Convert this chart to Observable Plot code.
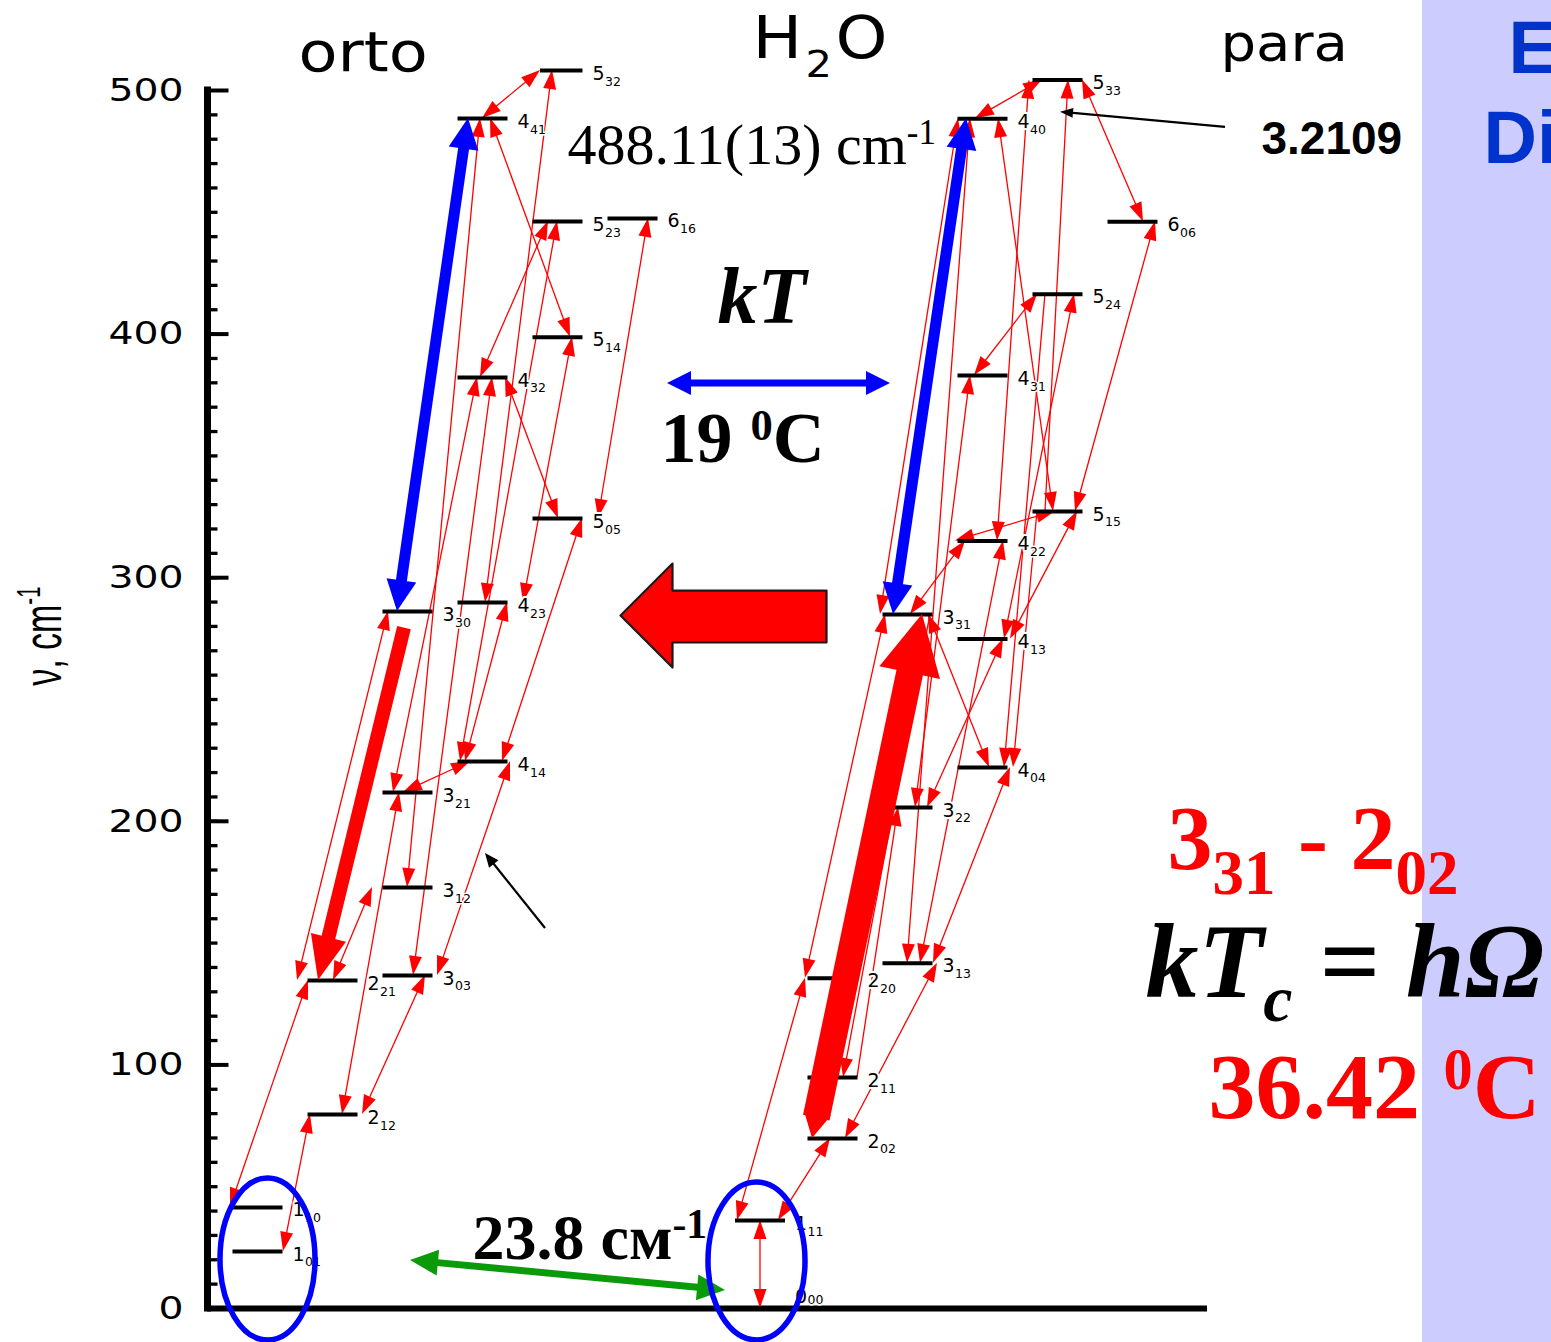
<!DOCTYPE html>
<html>
<head>
<meta charset="utf-8">
<script src="https://cdn.jsdelivr.net/npm/d3@7"></script>
<script src="https://cdn.jsdelivr.net/npm/@observablehq/plot@0.6"></script>
<style>
html, body { margin: 0; padding: 0; background: #fff; overflow: hidden; }
#chart { width: 1551px; height: 1342px; }
</style>
</head>
<body>
<div id="chart"></div>
<script>
// ---------------- data: rotational levels of H2O (cm^-1) ----------------
const levelNames  = ["1_01","1_10","2_12","2_21","3_03","3_12","3_21","3_30","4_14","4_23","4_32","4_41","5_05","5_14","5_23","5_32","6_16",
                     "0_00","1_11","2_02","2_11","2_20","3_13","3_22","3_31","4_04","4_13","4_22","4_31","4_40","5_15","5_24","5_33","6_06"];
const levelSpecies = ["orto","orto","orto","orto","orto","orto","orto","orto","orto","orto","orto","orto","orto","orto","orto","orto","orto",
                      "para","para","para","para","para","para","para","para","para","para","para","para","para","para","para","para","para"];
const levelEnergy = [23.4, 41.5, 79.6, 134.6, 136.7, 172.8, 211.8, 286.1, 224.5, 289.8, 382.2, 488.5, 324.3, 398.7, 446.2, 508.2, 447.5,
                     0, 36.1, 69.8, 94.8, 135.6, 141.7, 205.7, 284.9, 222.1, 274.8, 315.1, 383.0, 488.4, 327.2, 416.4, 504.3, 446.1];
// diagram column (one column per J, orto then para)
const levelColumn = [1, 1, 4, 4, 7, 7, 7, 7, 10, 10, 10, 10, 13, 13, 13, 13.3, 16,
                     21.1, 21.1, 24, 24, 24, 27, 27, 27, 30, 30, 30, 30, 30, 33, 33, 33, 36];
const levelSpan   = [2, 2, 2, 2, 2, 2, 2, 2, 2, 2, 2, 2, 2, 2, 2, 1.7, 2,
                     2, 2, 2, 2, 2, 2, 2, 2, 2, 2, 2, 2, 2, 2, 2, 2, 2];

// ---------------- data: transitions (from level, position, to level, position, heads) ----------------
const transFrom  = ["1_01","1_10","2_21","2_21","2_12","2_12","3_21","3_03","4_14","3_12","3_21","3_03","4_14","4_23","4_23","4_32","4_32","4_41","4_41","5_05","4_14",
                    "0_00","1_11","1_11","2_02","2_11","2_11","2_20","3_31","3_13","3_13","3_13","3_22","3_22","3_31","3_31","4_22","4_40","5_33","4_31","4_13","5_24","5_15","4_13","4_40","5_15","5_33","5_15"];
const transFromX = [3.04, 0.92, 3.6, 5.04, 5.4, 6.2, 7.84, 9.2, 11.8, 8.0, 7.44, 8.24, 10.32, 11.12, 12.64, 10.92, 11.92, 11.32, 11.0, 15.64, 10.12,
                    22.12, 22.84, 21.2, 25.52, 25.44, 26.0, 23.92, 26.92, 28.0, 28.52, 29.04, 28.8, 28.32, 28.12, 28.84, 29.92, 31.64, 32.88, 30.68, 31.88, 33.52, 33.2, 32.12, 30.72, 33.52, 35.0, 34.72];
const transTo    = ["2_12","2_21","3_30","3_12","3_21","3_03","4_14","4_14","5_05","4_41","4_32","4_32","4_23","5_32","5_14","5_23","5_05","5_14","5_32","6_16","5_23",
                    "1_11","2_02","2_20","3_13","3_31","3_22","3_31","4_40","4_40","4_22","4_04","4_13","4_31","4_22","4_04","5_15","5_15","4_22","5_24","5_24","4_04","4_04","5_15","5_33","5_33","6_06","6_06"];
const transToX   = [4.12, 4.04, 7.24, 6.6, 7.68, 8.72, 10.52, 12.12, 15.0, 10.92, 10.8, 11.4, 12.0, 13.8, 14.6, 13.64, 14.04, 14.52, 13.32, 17.64, 14.0,
                    22.12, 24.92, 23.92, 29.2, 28.92, 27.64, 27.12, 30.04, 30.52, 31.84, 32.12, 31.84, 30.52, 30.32, 31.28, 33.92, 33.84, 31.6, 33.2, 34.68, 31.88, 32.24, 34.8, 33.4, 34.44, 37.44, 37.92];
const transHeads = ["both","both","both","both","both","both","both","both","both","both","both","both","both","both","both","both","both","both","both","both","both",
                    "both","both","both","both","start","end","both","both","both","both","both","both","both","both","both","both","both","both","both","both","end","end","both","both","end","both","both"];

// strong transitions
const strongFrom  = ["3_30","3_31","3_30","2_02"];
const strongFromX = [7.6, 27.44, 8.04, 24.2];
const strongTo    = ["4_41","4_40","2_21","3_31"];
const strongToX   = [10.44, 30.36, 4.44, 28.6];

// y axis ticks
const yTicks = [0, 100, 200, 300, 400, 500];
const yMinorTicks = d3.range(10, 500, 10);

// annotations (text, column, energy)
const annText  = ["orto", "H_{2}O", "para", "488.11(13) cm^{-1}", "kT", "19 ^{0}C", "3.2109", "23.8 см^{-1}",
                  "3_{31} - 2_{02}", "kT_{c} = hΩ", "36.42 ^{0}C", "E", "Di", "ν, cm^{-1}"];
const annCol   = [3.64, 21.8, 40.52, 14.4, 20.4, 18.12, 42.16, 10.6, 38.4, 37.52, 40.04, 52.04, 51.04, -5.88];
const annValue = [508.2, 513.5, 512.3, 470.0, 404.4, 347.3, 474.1, 20.5, 180.6, 127.7, 78.4, 507.0, 470.4, 276];

// pointer arrows
const pointerFromCol = [40.72, 13.52], pointerFromValue = [484.9, 156.0];
const pointerToCol   = [34.12, 11.12], pointerToValue   = [491.1, 186.8];
const greenCol = [8.12, 20.72], greenValue = [19.7, 7.4];
const kTCol = [18.4, 27.32], kTValue = [379.7, 379.7];
const blockArrowCol   = [16.52, 18.6, 18.6, 24.76, 24.76, 18.6, 18.6];
const blockArrowValue = [284.5, 305.8, 294.7, 294.7, 273.4, 273.4, 263.1];
const ellipseCol = [2.42, 21.98], ellipseValue = [20.1, 19.3], ellipseRCol = [1.9, 1.94], ellipseRValue = [33.25, 32.4];
const panelCol = [48.6, 56], panelValue = [-20, 560];

// ---------------- build ----------------
const levels = levelNames.map((name, i) => ({
  name, species: levelSpecies[i], energy: levelEnergy[i], col: levelColumn[i], span: levelSpan[i],
  J: name.split("_")[0], K: name.split("_")[1]
}));
const raisedLevels = levels.filter(d => d.energy > 0);
const groundLevels = levels.filter(d => d.energy === 0);
const E = Object.fromEntries(levels.map(d => [d.name, d.energy]));

const thin = transFrom.map((f, i) => ({
  x1: transFromX[i], y1: E[f], x2: transToX[i], y2: E[transTo[i]],
  head1: transHeads[i] !== "end", head2: transHeads[i] !== "start",
  color: "#FF0000", width: 1.3, len1: 19, half1: 6.5, len2: 19, half2: 6.5
}));

const strongStyle = [
  {color: "#0000FF", width: 11, head1: true, head2: true, len1: 31, half1: 15, len2: 31, half2: 15},
  {color: "#0000FF", width: 11, head1: true, head2: true, len1: 31, half1: 15, len2: 31, half2: 15},
  {color: "#FF0000", width: 14, head1: false, head2: true, gap1: 17, len2: 44, half2: 18},
  {color: "#FF0000", width: 27, head1: true, head2: true, len1: 26, half1: 14, len2: 60, half2: 31}
];
const strong = strongFrom.map((f, i) => ({
  x1: strongFromX[i], y1: E[f], x2: strongToX[i], y2: E[strongTo[i]], ...strongStyle[i]
}));

const pointers = [
  {x1: pointerFromCol[0], y1: pointerFromValue[0], x2: pointerToCol[0], y2: pointerToValue[0], color: "#000", width: 2.2, head2: true, len2: 13, half2: 5},
  {x1: pointerFromCol[1], y1: pointerFromValue[1], x2: pointerToCol[1], y2: pointerToValue[1], color: "#000", width: 2.2, head2: true, len2: 14, half2: 6},
  {x1: greenCol[0], y1: greenValue[0], x2: greenCol[1], y2: greenValue[1], color: "#0A9A0A", width: 7, head1: true, head2: true, len1: 28, half1: 13, len2: 28, half2: 13},
  {x1: kTCol[0], y1: kTValue[0], x2: kTCol[1], y2: kTValue[1], color: "#0000FF", width: 7, head1: true, head2: true, len1: 24, half1: 12, len2: 24, half2: 12}
];

function getScales(args) {
  for (const a of args) if (a && typeof a.x === "function" && typeof a.y === "function") return a;
  for (const a of args) if (a && a.scales && a.scales.x && a.scales.x.apply) return {x: v => a.scales.x.apply(v), y: v => a.scales.y.apply(v)};
  return null;
}
function tri(g, tx, ty, bx, by, len, half, color) {
  const cx = tx + bx * len, cy = ty + by * len, nx = -by, ny = bx;
  g.append("path")
    .attr("d", `M${tx},${ty}L${cx + nx * half},${cy + ny * half}L${cx - nx * half},${cy - ny * half}Z`)
    .attr("fill", color);
}
function drawArrow(g, x1, y1, x2, y2, st) {
  const dx = x2 - x1, dy = y2 - y1, L = Math.hypot(dx, dy) || 1;
  const ux = dx / L, uy = dy / L;
  const a = st.head1 ? st.len1 * 0.8 : (st.gap1 || 0);
  const b = st.head2 ? st.len2 * 0.8 : (st.gap2 || 0);
  g.append("line")
    .attr("x1", x1 + ux * a).attr("y1", y1 + uy * a)
    .attr("x2", x2 - ux * b).attr("y2", y2 - uy * b)
    .attr("stroke", st.color).attr("stroke-width", st.width);
  if (st.head1) tri(g, x1, y1, ux, uy, st.len1, st.half1, st.color);
  if (st.head2) tri(g, x2, y2, -ux, -uy, st.len2, st.half2, st.color);
}
function arrowLayer(items) {
  return function (...args) {
    const s = getScales(args);
    const g = d3.create("svg:g");
    for (const a of items) drawArrow(g, s.x(a.x1), s.y(a.y1), s.x(a.x2), s.y(a.y2), a);
    return g.node();
  };
}
function ellipseLayer() {
  return function (...args) {
    const s = getScales(args);
    const g = d3.create("svg:g");
    ellipseCol.forEach((c, i) => {
      const cx = s.x(c), cy = s.y(ellipseValue[i]);
      g.append("ellipse")
        .attr("cx", cx).attr("cy", cy)
        .attr("rx", Math.abs(s.x(c + ellipseRCol[i]) - cx))
        .attr("ry", Math.abs(s.y(ellipseValue[i] + ellipseRValue[i]) - cy))
        .attr("fill", "none").attr("stroke", "#0000FF").attr("stroke-width", 5.5);
    });
    return g.node();
  };
}

const SANS = "DejaVu Sans", ARIAL = "Liberation Sans", SERIF = "Liberation Serif";
const annStyle = [
  {font: SANS, size: 55, sx: 1.16},
  {font: SANS, size: 59, ls: 3, sx: 1.12, subScale: 0.63, subShift: 19},
  {font: SANS, size: 51, sx: 1.1},
  {font: SERIF, size: 58, supScale: 0.6, supShift: 20},
  {font: SERIF, size: 80, weight: "bold", italic: true},
  {font: SERIF, size: 72, weight: "bold", supScale: 0.62, supShift: 22},
  {font: ARIAL, size: 46, weight: "bold"},
  {font: SERIF, size: 64, weight: "bold", supScale: 0.65, supShift: 21},
  {font: SERIF, size: 90, weight: "bold", fill: "#FF0000", subScale: 0.7, subShift: 25},
  {font: SERIF, size: 106, weight: "bold", italic: true, subScale: 0.62, subShift: 24},
  {font: SERIF, size: 94, weight: "bold", fill: "#FF0000", supScale: 0.62, supShift: 29},
  {font: ARIAL, size: 74, weight: "bold", fill: "#0033CC"},
  {font: ARIAL, size: 74, weight: "bold", fill: "#0033CC"},
  {font: ARIAL, size: 34, rotate: -90, anchor: "middle", supScale: 0.6, supShift: 13, stretch: 1.6}
];
const annMarks = annText.map((t, i) => {
  const st = annStyle[i];
  return Plot.text([i], {
    x: k => annCol[k], y: k => annValue[k], text: k => annText[k],
    fontFamily: st.font, fontSize: st.size, fontWeight: st.weight || "normal",
    fontStyle: st.italic ? "italic" : "normal", fill: st.fill || "black",
    textAnchor: st.anchor || "start", lineAnchor: "bottom", rotate: st.rotate || 0
  });
});

const labelJ = {x: d => d.col + d.span, y: "energy", text: "J", dx: 10, textAnchor: "start",
  fontSize: 19, fontFamily: SANS, fill: "black", stroke: "white", strokeWidth: 4};
const labelK = {x: d => d.col + d.span, y: "energy", text: "K", dx: 22.5, textAnchor: "start",
  fontSize: 12.5, fontFamily: SANS, fill: "black", stroke: "white", strokeWidth: 3};

const chart = Plot.plot({
  width: 1551, height: 1342,
  marginLeft: 207, marginRight: 344, marginTop: 90, marginBottom: 34,
  x: {domain: [0, 40], axis: null},
  y: {domain: [0, 500]},
  style: {fontFamily: SANS, background: "white", overflow: "visible"},
  marks: [
    Plot.rect([0], {x1: () => panelCol[0], x2: () => panelCol[1], y1: () => panelValue[0], y2: () => panelValue[1], fill: "#CCCCFF"}),
    Plot.axisY(yTicks, {tickSize: 0, tickPadding: 24, fontSize: 32, fontFamily: SANS, label: null, fill: "black"}),
    Plot.ruleY(yMinorTicks, {x1: 0, x2: 0.42, strokeWidth: 3.3, stroke: "black"}),
    Plot.ruleY(yTicks.filter(d => d > 0), {x1: 0, x2: 0.86, strokeWidth: 4, stroke: "black"}),
    Plot.ruleX([0], {y1: 0, y2: 500, strokeWidth: 7, stroke: "black", strokeLinecap: "square"}),
    Plot.ruleY([0], {x1: 0, x2: 40, strokeWidth: 6, stroke: "black"}),
    arrowLayer(thin),
    Plot.link(levels, {x1: "col", x2: d => d.col + d.span, y1: "energy", y2: "energy", stroke: "black", strokeWidth: 4}),
    Plot.text(raisedLevels, {...labelJ, dy: 3}),
    Plot.text(raisedLevels, {...labelK, dy: 11}),
    Plot.text(groundLevels, {...labelJ, dy: -12}),
    Plot.text(groundLevels, {...labelK, dy: -9}),
    arrowLayer(strong),
    Plot.line(blockArrowCol.map((c, i) => ({c, v: blockArrowValue[i]})), {x: "c", y: "v", fill: "#FF0000", stroke: "#1a1a1a", strokeWidth: 2.2, curve: "linear-closed"}),
    arrowLayer(pointers),
    ellipseLayer(),
    ...annMarks
  ]
});

// ---- rich text: sub/superscripts, spacing (matched by content) ----
const svg = chart.tagName.toLowerCase() === "svg" ? chart : chart.querySelector("svg");
const allTexts = Array.from(svg.querySelectorAll("text"));
annText.forEach((raw, i) => {
  const st = annStyle[i];
  const el = allTexts.find(t => t.textContent === raw && !t.dataset.done);
  if (!el) return;
  el.dataset.done = "1";
  const fs = st.size;
  el.setAttribute("style", "white-space: pre");
  if (st.ls) el.setAttribute("letter-spacing", st.ls);
  const tr = el.getAttribute("transform");
  if (tr && st.stretch) el.setAttribute("transform", tr + ` scale(1,${st.stretch})`);
  if (tr && st.sx) el.setAttribute("transform", tr + ` scale(${st.sx},1)`);
  if (!/[_^]\{/.test(raw)) return;
  const parts = raw.split(/(_\{[^}]*\}|\^\{[^}]*\})/).filter(s => s.length);
  el.textContent = "";
  let offset = 0;
  for (const p of parts) {
    let txt = p, size = fs, shift = 0;
    if (p.startsWith("_{")) { txt = p.slice(2, -1); size = fs * st.subScale; shift = st.subShift; }
    else if (p.startsWith("^{")) { txt = p.slice(2, -1); size = fs * st.supScale; shift = -st.supShift; }
    d3.select(el).append("tspan").text(txt).attr("font-size", size).attr("dy", shift - offset);
    offset = shift;
  }
});
// wider tick-label glyphs, as in the reference
d3.select(svg).selectAll('g[aria-label="y-axis tick label"] text').each(function () {
  const tr = this.getAttribute("transform");
  if (tr) this.setAttribute("transform", tr + " scale(1.23,1)");
  else this.setAttribute("letter-spacing", 5);
});

document.getElementById("chart").append(chart);
</script>
</body>
</html>
